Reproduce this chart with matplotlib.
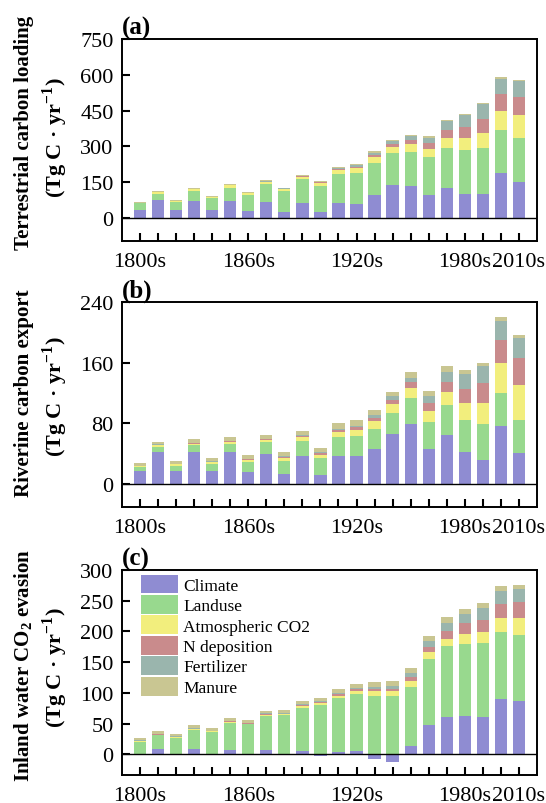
import matplotlib
matplotlib.use("Agg")
import matplotlib.pyplot as plt
import numpy as np

plt.rcParams['font.family'] = 'Liberation Serif'
plt.rcParams['mathtext.fontset'] = 'custom'
plt.rcParams['mathtext.rm'] = 'Liberation Serif'
plt.rcParams['mathtext.bf'] = 'Liberation Serif:bold'

decades = ["1800s", "1810s", "1820s", "1830s", "1840s", "1850s", "1860s", "1870s",
           "1880s", "1890s", "1900s", "1910s", "1920s", "1930s", "1940s", "1950s",
           "1960s", "1970s", "1980s", "1990s", "2000s", "2010s"]
shown_labels = ["1800s", "1860s", "1920s", "1980s", "2010s"]

factors = ["Climate", "Landuse", "Atmospheric CO2", "N deposition", "Fertilizer", "Manure"]
colors = ["#8F8CD2", "#98D98E", "#F2EE7D", "#C98B8C", "#9AB5AD", "#C9C692"]

# (a) terrestrial carbon loading, Tg C / yr
terr_climate = [33, 74, 33, 72, 33, 71, 31, 68, 26, 64, 24, 63, 59, 98, 137, 135, 98, 124, 102, 102, 189, 153]
terr_landuse = [29, 26, 35, 42, 50, 57, 66, 76, 86, 98, 111, 121, 130, 133, 134, 143, 158, 171, 182, 193, 180, 184]
terr_co2 = [2, 8, 4, 6, 5, 9, 7, 8, 9, 10, 12, 16, 19, 23, 26, 31, 33, 41, 51, 62, 81, 93]
terr_ndep = [0.5, 1, 0.5, 1, 1, 1, 1, 1, 2, 3, 4, 7, 7, 12, 14, 19, 24, 33, 47, 57, 69, 77]
terr_fert = [0.5, 1, 0.5, 1, 0.5, 1, 1, 1, 1, 1, 2, 4, 6, 8, 12, 16, 24, 36, 49, 62, 65, 68]
terr_manure = [1, 3, 2, 3, 1.5, 4, 3, 4, 4, 3, 3, 3, 4, 6, 6, 6, 6, 5, 5, 5, 5, 5]

# (b) riverine carbon export
river_climate = [17, 43, 17, 42, 17.5, 42, 16, 40, 14, 37.5, 12, 37.5, 36.5, 46, 66, 79.5, 46, 65, 42, 32, 77, 40.5]
river_landuse = [5, 6, 7.5, 9, 9.5, 11, 13, 15, 17, 19.5, 22, 24.5, 27.5, 27, 28, 33.5, 36, 39, 42, 47, 43, 44.5]
river_co2 = [1.5, 2, 1.5, 2, 2, 2.5, 3, 3, 3, 4.5, 5, 7, 8, 10.5, 12, 14, 15, 17.5, 23, 28.5, 39, 46]
river_ndep = [0.5, 1, 0.5, 1, 0.5, 1, 1, 1, 2, 2.5, 2, 3, 3, 3.5, 5, 7, 10, 12.5, 19, 25.5, 31, 35]
river_fert = [0.5, 0.5, 0.5, 0.5, 0.5, 0.5, 0.5, 1, 1, 1, 1, 1, 1.5, 4, 5, 6, 9, 14, 19, 23, 25, 26]
river_manure = [3.5, 3.5, 4, 4.5, 5, 4.5, 5, 5, 5, 5, 5.5, 7, 7.5, 7, 6, 8, 7, 7, 5, 4, 5, 5]

# (c) inland water CO2 evasion
evas_climate = [0.5, 8.5, 0.5, 8, 0.5, 7, 0.5, 7, -2, 5.5, -3, 4, 5.5, -8, -12, 13.5, 47, 60, 63, 60, 90.5, 87]
evas_landuse = [19.5, 22.5, 26.5, 31, 36, 43.5, 48, 55, 63.5, 70.5, 80, 87, 92.5, 95.5, 94.5, 96.5, 108, 116, 116, 120.5, 108, 107]
evas_co2 = [1, 1, 1, 1.5, 1, 2, 1.5, 2.5, 1.5, 3, 4, 4, 4.5, 7.5, 8, 9, 11, 12, 17, 19, 23, 27.5]
evas_ndep = [0.5, 0.5, 0.5, 0.5, 0.5, 1, 1, 1, 1, 1.5, 1.5, 3, 3.5, 4, 4, 6, 9, 12.5, 17, 18.5, 23.5, 26]
evas_fert = [1, 1, 0.5, 1, 0.5, 0.5, 0.5, 1, 1, 1.5, 1, 1.5, 2, 3, 4.5, 7, 9, 13.5, 16, 20, 20, 21]
evas_manure = [4.5, 5, 4, 5, 5, 5, 5, 4.5, 5.5, 5.5, 5, 7, 7, 7, 8, 9, 8.5, 9, 8, 8, 9, 7.5]


def stacked_bars(ax, series, width=0.68):
    x = np.arange(len(decades))
    pos_base = np.zeros(len(decades))
    neg_base = np.zeros(len(decades))
    for values, name, color in zip(series, factors, colors):
        values = np.asarray(values, dtype=float)
        bottom = np.where(values >= 0, pos_base, neg_base)
        ax.bar(x, values, width, bottom=bottom, color=color, label=name, linewidth=0)
        pos_base = pos_base + np.clip(values, 0, None)
        neg_base = neg_base + np.clip(values, None, 0)


def style_axis(ax, ylim, yticks, tag):
    ax.set_xlim(-1, 22)
    ax.set_ylim(*ylim)
    ax.set_yticks(yticks)
    ax.set_xticks(np.arange(len(decades)))
    ax.set_xticklabels([d if d in shown_labels else "" for d in decades])
    ax.axhline(0, color="black", linewidth=1.0)
    ax.tick_params(axis="both", direction="in", labelsize=16, width=1.5)
    ax.tick_params(axis="x", length=6, pad=8)
    ax.tick_params(axis="y", length=6, pad=6)
    for spine in ax.spines.values():
        spine.set_linewidth(1.4)
    ax.text(0.0, 1.0, tag, transform=ax.transAxes, ha="left", va="bottom",
            fontsize=18, fontweight="bold")


def two_line_label(fig, line1, line2, y1, y2):
    # y positions in pixels from the top of the figure
    w, h = 546.0, 804.0
    fig.text(24 / w, 1 - y1 / h, line1, rotation=90, ha="center", va="center",
             fontsize=15, fontweight="bold")
    fig.text(55 / w, 1 - y2 / h, line2, rotation=90, ha="center", va="center",
             fontsize=16, fontweight="bold")


fig = plt.figure(figsize=(5.46, 8.04), dpi=100)
left, width = 0.2234, 0.760
ax_a = fig.add_axes([left, 0.699, width, 0.2512])
ax_b = fig.add_axes([left, 0.3682, width, 0.255])
ax_c = fig.add_axes([left, 0.0354, width, 0.2544])

stacked_bars(ax_a, [terr_climate, terr_landuse, terr_co2, terr_ndep, terr_fert, terr_manure])
style_axis(ax_a, (-96, 750), [0, 150, 300, 450, 600, 750], "(a)")

stacked_bars(ax_b, [river_climate, river_landuse, river_co2, river_ndep, river_fert, river_manure])
style_axis(ax_b, (-30, 240), [0, 80, 160, 240], "(b)")

stacked_bars(ax_c, [evas_climate, evas_landuse, evas_co2, evas_ndep, evas_fert, evas_manure])
style_axis(ax_c, (-33, 300), [0, 50, 100, 150, 200, 250, 300], "(c)")

unit = "(Tg C · yr$^{\\mathbf{-1}}$)"
two_line_label(fig, "Terrestrial carbon loading", unit, 133, 138)
two_line_label(fig, "Riverine carbon export", unit, 393, 397)
two_line_label(fig, "Inland water CO$_{\\mathbf{2}}$ evasion", unit, 665, 668)

ax_c.legend(loc="upper left", bbox_to_anchor=(0.047, 0.978), frameon=False, fontsize=12.5,
            handlelength=2.1, handleheight=1.29, labelspacing=0.07, handletextpad=0.3,
            borderpad=0, borderaxespad=0)

fig.savefig("out.png", dpi=100)
